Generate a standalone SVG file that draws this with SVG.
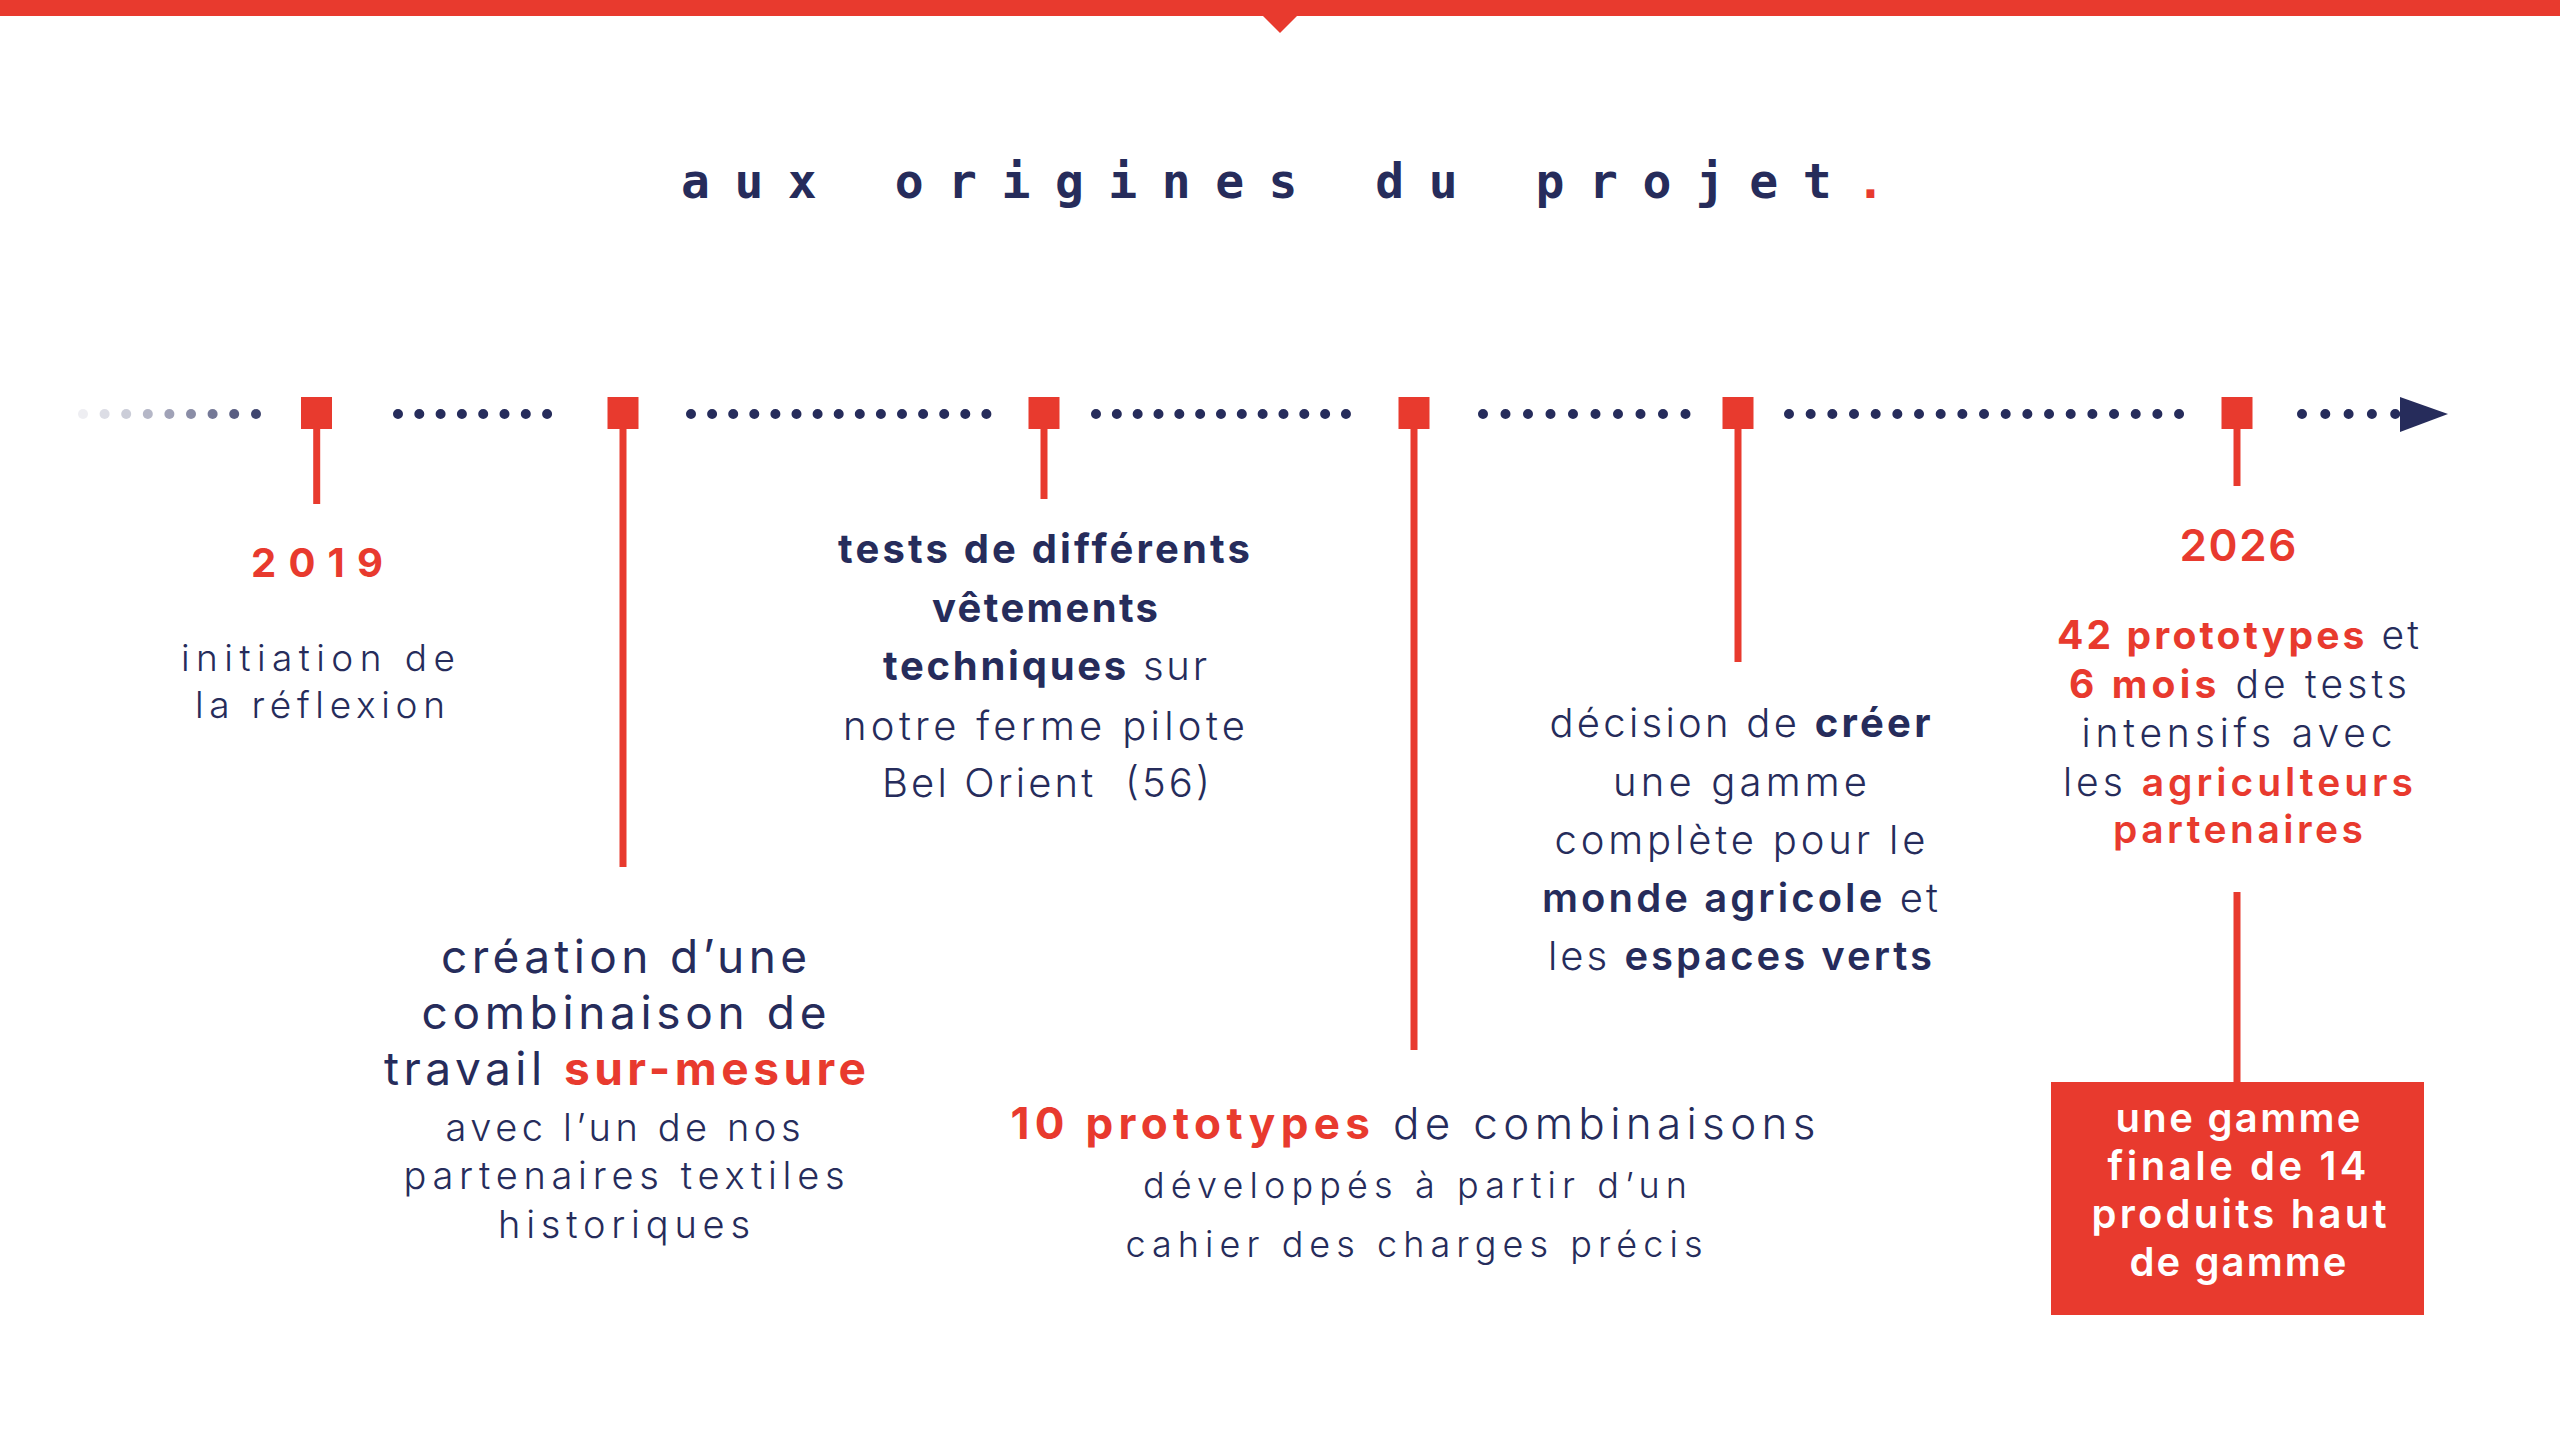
<svg xmlns="http://www.w3.org/2000/svg" width="2560" height="1440" viewBox="0 0 2560 1440">
<style>
.t{font-family:"Inter","Open Sans","Noto Sans",sans-serif;fill:#262C5B}
.title{font-family:"DejaVu Sans Mono","Liberation Mono",monospace;font-weight:bold;font-size:48px;fill:#262C5B}
.lt{font-weight:300}
.rg{font-weight:400}
.md{font-weight:600}
.bd{font-weight:700}
.red{fill:#E83A2E}
.wh{fill:#FFFFFF}
.dots{stroke:#262C5B;stroke-width:10;stroke-linecap:round;fill:none}
.stem{stroke:#E83A2E;stroke-width:7;fill:none}
.mk{fill:#E83A2E}
</style>
<rect width="2560" height="1440" fill="#FFFFFF"/>
<g id="header">
<rect x="0" y="0" width="2560" height="16" fill="#E83A2E"/>
<polygon points="1262,15 1298,15 1280,33" fill="#E83A2E"/>
<text class="title" x="1283" y="198" text-anchor="middle" textLength="1204" lengthAdjust="spacing">aux origines du projet<tspan class="red">.</tspan></text>
</g>
<g id="timeline">
<g fill="#262C5B">
<circle cx="83" cy="414" r="5" opacity="0.08"/>
<circle cx="104.6" cy="414" r="5" opacity="0.16"/>
<circle cx="126.2" cy="414" r="5" opacity="0.24"/>
<circle cx="147.8" cy="414" r="5" opacity="0.34"/>
<circle cx="169.4" cy="414" r="5" opacity="0.44"/>
<circle cx="191" cy="414" r="5" opacity="0.54"/>
<circle cx="212.6" cy="414" r="5" opacity="0.64"/>
<circle cx="234.2" cy="414" r="5" opacity="0.76"/>
<circle cx="256" cy="414" r="5" opacity="0.88"/>
</g>
<line class="dots" x1="398" y1="414" x2="547.2" y2="414" stroke-dasharray="0 21.3"/>
<line class="dots" x1="691" y1="414" x2="986.5" y2="414" stroke-dasharray="0 21.1"/>
<line class="dots" x1="1096" y1="414" x2="1346.2" y2="414" stroke-dasharray="0 20.83"/>
<line class="dots" x1="1483" y1="414" x2="1685.7" y2="414" stroke-dasharray="0 22.5"/>
<line class="dots" x1="1789" y1="414" x2="2179.2" y2="414" stroke-dasharray="0 21.67"/>
<line class="dots" x1="2302" y1="414" x2="2395.3" y2="414" stroke-dasharray="0 23.3"/>
<polygon points="2400,397 2448,414 2400,432" fill="#262C5B"/>
</g>
<g id="connectors">
<line class="stem" x1="316.7" y1="420" x2="316.7" y2="504"/>
<line class="stem" x1="623" y1="420" x2="623" y2="867"/>
<line class="stem" x1="1044" y1="420" x2="1044" y2="499"/>
<line class="stem" x1="1414" y1="420" x2="1414" y2="1050"/>
<line class="stem" x1="1738" y1="420" x2="1738" y2="662"/>
<line class="stem" x1="2237" y1="420" x2="2237" y2="486"/>
<line class="stem" x1="2237" y1="892" x2="2237" y2="1083" stroke-width="8"/>
</g>
<g id="markers">
<rect class="mk" x="301" y="397" width="31" height="32"/>
<rect class="mk" x="607.5" y="397" width="31" height="32"/>
<rect class="mk" x="1028.5" y="397" width="31" height="32"/>
<rect class="mk" x="1398.5" y="397" width="31" height="32"/>
<rect class="mk" x="1722.5" y="397" width="31" height="32"/>
<rect class="mk" x="2221.5" y="397" width="31" height="32"/>
</g>
<g id="node-2019">
<text class="t bd red" x="317" y="577" font-size="40" text-anchor="middle" textLength="132" lengthAdjust="spacing">2019</text>
<text class="t lt" x="318" y="671" font-size="37" text-anchor="middle" textLength="274" lengthAdjust="spacing">initiation de</text>
<text class="t lt" x="320" y="718" font-size="37" text-anchor="middle" textLength="250" lengthAdjust="spacing">la réflexion</text>
</g>
<g id="node-combinaison">
<text class="t rg" x="624" y="973" font-size="46" text-anchor="middle" textLength="366" lengthAdjust="spacing">création d’une</text>
<text class="t rg" x="624" y="1029" font-size="46" text-anchor="middle" textLength="405" lengthAdjust="spacing">combinaison de</text>
<text class="t rg" x="625" y="1085" font-size="46" text-anchor="middle" textLength="482" lengthAdjust="spacing">travail <tspan class="bd red">sur-mesure</tspan></text>
<text class="t lt" x="623" y="1141" font-size="38" text-anchor="middle" textLength="355" lengthAdjust="spacing">avec l’un de nos</text>
<text class="t lt" x="624" y="1189" font-size="38" text-anchor="middle" textLength="441" lengthAdjust="spacing">partenaires textiles</text>
<text class="t lt" x="624" y="1238" font-size="38" text-anchor="middle" textLength="252" lengthAdjust="spacing">historiques</text>
</g>
<g id="node-tests">
<text class="t bd" x="1044" y="563" font-size="40" text-anchor="middle" textLength="412" lengthAdjust="spacing">tests de différents</text>
<text class="t bd" x="1045" y="622" font-size="40" text-anchor="middle" textLength="226" lengthAdjust="spacing">vêtements</text>
<text class="t lt" x="1045" y="680" font-size="40" text-anchor="middle" textLength="324" lengthAdjust="spacing"><tspan class="bd">techniques</tspan> sur</text>
<text class="t lt" x="1044" y="740" font-size="40" text-anchor="middle" textLength="402" lengthAdjust="spacing">notre ferme pilote</text>
<text class="t lt" x="1046" y="797" font-size="40" text-anchor="middle" textLength="328" lengthAdjust="spacing">Bel Orient&#160; (56)</text>
</g>
<g id="node-prototypes">
<text class="t lt" x="1413" y="1139" font-size="44" text-anchor="middle" textLength="805" lengthAdjust="spacing"><tspan class="bd red">10 prototypes</tspan> de combinaisons</text>
<text class="t lt" x="1415" y="1198" font-size="36" text-anchor="middle" textLength="544" lengthAdjust="spacing">développés à partir d’un</text>
<text class="t lt" x="1414" y="1257" font-size="36" text-anchor="middle" textLength="577" lengthAdjust="spacing">cahier des charges précis</text>
</g>
<g id="node-gamme">
<text class="t lt" x="1740" y="737" font-size="40" text-anchor="middle" textLength="381" lengthAdjust="spacing">décision de <tspan class="bd">créer</tspan></text>
<text class="t lt" x="1740" y="796" font-size="40" text-anchor="middle" textLength="254" lengthAdjust="spacing">une gamme</text>
<text class="t lt" x="1740" y="854" font-size="40" text-anchor="middle" textLength="371" lengthAdjust="spacing">complète pour le</text>
<text class="t lt" x="1740" y="912" font-size="40" text-anchor="middle" textLength="396" lengthAdjust="spacing"><tspan class="md">monde agricole</tspan> et</text>
<text class="t lt" x="1740" y="970" font-size="40" text-anchor="middle" textLength="384" lengthAdjust="spacing">les <tspan class="md">espaces verts</tspan></text>
</g>
<g id="node-2026">
<text class="t md red" x="2238" y="561" font-size="44" text-anchor="middle" textLength="117" lengthAdjust="spacing">2026</text>
<text class="t lt" x="2238" y="649" font-size="39" text-anchor="middle" textLength="362" lengthAdjust="spacing"><tspan class="bd red">42 prototypes</tspan> et</text>
<text class="t lt" x="2238" y="698" font-size="39" text-anchor="middle" textLength="338" lengthAdjust="spacing"><tspan class="bd red">6 mois</tspan> de tests</text>
<text class="t lt" x="2237" y="747" font-size="39" text-anchor="middle" textLength="311" lengthAdjust="spacing">intensifs avec</text>
<text class="t lt" x="2238" y="796" font-size="39" text-anchor="middle" textLength="350" lengthAdjust="spacing">les <tspan class="md red">agriculteurs</tspan></text>
<text class="t md red" x="2238" y="843" font-size="39" text-anchor="middle" textLength="250" lengthAdjust="spacing">partenaires</text>
</g>
<g id="node-final">
<rect x="2051" y="1082" width="373" height="233" fill="#E83A2E"/>
<text class="t md wh" x="2238" y="1132" font-size="40" text-anchor="middle" textLength="245" lengthAdjust="spacing">une gamme</text>
<text class="t md wh" x="2237" y="1180" font-size="40" text-anchor="middle" textLength="259" lengthAdjust="spacing">finale de 14</text>
<text class="t md wh" x="2239" y="1228" font-size="40" text-anchor="middle" textLength="295" lengthAdjust="spacing">produits haut</text>
<text class="t md wh" x="2238" y="1276" font-size="40" text-anchor="middle" textLength="217" lengthAdjust="spacing">de gamme</text>
</g>
</svg>
